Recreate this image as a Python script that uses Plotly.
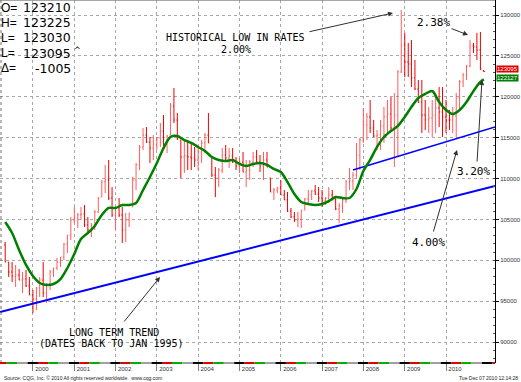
import plotly.graph_objects as go
import pandas as pd

# ---------------- data (monthly bars, May 1999 .. Dec 2010) ----------------
bar_open = [101870, 99790, 98570, 98080, 98200, 97590, 97710, 96860,
            95760, 95270, 96610, 97590, 96000, 97100, 98570, 99060, 99790, 100400, 101990, 103090,
            104930, 105170, 105540, 105660, 104320, 103710, 104320, 105910, 107740, 109580, 109820, 107620,
            105540, 106400, 105540, 103710, 104930, 106520, 109820, 111660, 113860, 115320, 114470, 113730,
            114220, 114960, 115810, 114220, 115320, 118870, 117160, 114710, 112630, 112760, 112630, 112510,
            112270, 113250, 114350, 115320, 112630, 110430, 110070, 111040, 112880, 112510, 112760, 112020,
            111530, 112020, 110800, 111040, 112020, 112630, 112020, 111530, 112270, 110070, 108350, 108600,
            108840, 107990, 107380, 106030, 105300, 104930, 105050, 106150, 107500, 107990, 108480, 108110,
            107620, 107250, 107620, 107990, 107380, 106270, 106640, 107380, 109580, 109700, 110430, 112880,
            114710, 116550, 117530, 116180, 115200, 115320, 116430, 117530, 117890, 116180, 117770, 123030,
            126330, 124250, 124010, 122300, 120950, 119360, 117770, 117160, 117400, 117770, 118630, 118140,
            117530, 117160, 117160, 117650, 119850, 121810, 122660, 123760, 126210, 126090, 125720, 123210]
bar_high = [102240, 99790, 99790, 99430, 98940, 98570, 98810, 97960,
            96370, 96740, 97960, 99790, 97220, 98810, 99060, 100280, 100400, 102120, 103090, 105300,
            106520, 105790, 106520, 106760, 105300, 104560, 106150, 107740, 109820, 111660, 112270, 108960,
            106520, 107620, 106520, 105790, 105790, 110190, 111900, 114100, 116180, 116300, 115080, 115320,
            115080, 116790, 117770, 115320, 119240, 121070, 118020, 114710, 114710, 114470, 114350, 113860,
            113860, 114710, 115570, 118020, 112630, 111410, 111290, 113730, 114100, 113730, 113730, 112630,
            112510, 113250, 112270, 112270, 113250, 113490, 112880, 113250, 113250, 110070, 108840, 108960,
            109820, 108600, 108350, 106400, 105910, 105910, 106150, 107620, 108600, 108600, 109210, 108960,
            108600, 107740, 108960, 108600, 107740, 107010, 107620, 109820, 111290, 110800, 114350, 114960,
            118630, 118020, 119610, 117160, 115940, 117160, 118750, 119610, 119970, 120460, 123270, 130610,
            127800, 126580, 126940, 124500, 122050, 122050, 119610, 118750, 119610, 119970, 121190, 121190,
            119610, 118380, 118750, 120460, 122050, 122910, 123890, 126940, 126580, 127800, 127920, 123225]
bar_low = [99790, 97960, 97350, 96740, 97590, 96000, 96740, 95760,
           93560, 93920, 95510, 95510, 94780, 96370, 97960, 98810, 99180, 100040, 100890, 102480,
           104560, 103950, 104930, 104070, 103340, 102850, 103710, 105790, 107740, 108230, 107380, 105300,
           103710, 105300, 102120, 102240, 104070, 106520, 108600, 111040, 113490, 114350, 111900, 112270,
           113490, 113860, 113860, 113120, 115320, 116790, 114710, 110070, 110680, 111040, 111040, 111410,
           111040, 111900, 113120, 114350, 110190, 107740, 108960, 110680, 112020, 111290, 111900, 111040,
           110680, 110800, 108960, 109820, 111410, 111900, 110800, 109820, 111410, 108350, 107380, 108230,
           107990, 107380, 105910, 105170, 104680, 104070, 103950, 106150, 107010, 107380, 107990, 107130,
           106520, 106760, 107010, 107380, 106150, 104560, 105790, 107010, 108600, 108600, 110070, 111040,
           114350, 114710, 115570, 115080, 113490, 113490, 114350, 115570, 115940, 111410, 112630, 122910,
           122420, 122420, 121190, 120830, 119240, 115570, 115940, 115570, 115080, 115570, 116300, 115080,
           115570, 115940, 115570, 115080, 118380, 121190, 122050, 123640, 125350, 124500, 123270, 123030]
bar_close = [99790, 98570, 98080, 98200, 97590, 97710, 96860, 95760,
             95270, 96610, 97590, 96000, 97100, 98570, 99060, 99790, 100400, 101990, 103090, 104930,
             105170, 105540, 105660, 104320, 103710, 104320, 105910, 107620, 109580, 109820, 107620, 105540,
             106400, 105540, 103710, 104930, 105790, 109820, 111660, 113860, 115320, 114470, 113730, 114220,
             114960, 115810, 114220, 115200, 118870, 117160, 114840, 112630, 112760, 112630, 112510, 112270,
             113250, 114350, 115320, 114350, 110430, 110070, 111040, 112880, 112510, 112760, 112020, 111530,
             112020, 110800, 111040, 112020, 112630, 112020, 111530, 112270, 111410, 108350, 108600, 108840,
             107990, 107380, 106030, 105300, 104930, 105050, 106150, 107500, 107990, 108480, 108110, 107620,
             107250, 107620, 107990, 107380, 106270, 106640, 107380, 109580, 109700, 110430, 112880, 114710,
             116550, 117530, 116180, 115200, 115320, 116430, 117530, 117890, 116180, 117770, 123030, 126330,
             124250, 124010, 122300, 120950, 119360, 117770, 117160, 117400, 117770, 118630, 118140, 117530,
             117160, 117160, 117650, 119850, 121810, 122660, 123760, 126210, 126090, 125720, 123400, 123095]

# green moving-average line, read every second month (May 1999 .. Nov 2010) + Dec 2010
ma_values = [104680, 103340, 101260, 99430, 98080, 97220, 96980, 97100, 97710, 99060,
             100770, 102610, 103340, 104200, 105540, 106400, 106400, 106760, 106760, 107010,
             108600, 110190, 111900, 113730, 115080, 115200, 114710, 114350, 113860, 113370,
             112630, 112270, 112140, 112270, 111780, 111530, 111780, 111900, 111660, 111170,
             110800, 109580, 108110, 107130, 106890, 106760, 106890, 107250, 107740, 107620,
             107620, 108720, 110920, 112270, 113860, 115080, 115810, 116430, 117530, 118750,
             119850, 120340, 120710, 119360, 118380, 117890, 118380, 119360, 120710, 121810,
             122127]

# trend lines (date, price)
trend_long_dates = ["1999-03-16", "2011-03-10"]
trend_long_vals = [93680, 109090]
trend_short_dates = ["2007-10-01", "2011-03-10"]
trend_short_vals = [111040, 116300]

years = list(range(2000, 2011))
y_ticks = list(range(90000, 130001, 5000))
last_close = 123095
last_ma = 122127
x_range = ["1999-03-16", "2011-03-10"]
y_range = [87440, 131835]

months = pd.date_range("1999-05-01", periods=len(bar_high), freq="MS")
ma_dates = list(pd.date_range("1999-05-01", periods=len(ma_values) - 1, freq="2MS")) + [pd.Timestamp("2010-12-01")]

# ---------------- figure ----------------
PW, PH = 495, 363  # plot area in px


def fx(px):
    return px / PW


def fy(py):
    return 1 - py / PH


fig = go.Figure()

fig.add_trace(go.Scatter(x=trend_long_dates, y=trend_long_vals, mode="lines",
                         line=dict(color="#0000ff", width=2), hoverinfo="skip"))
fig.add_trace(go.Scatter(x=trend_short_dates, y=trend_short_vals, mode="lines",
                         line=dict(color="#0000ff", width=1.6), hoverinfo="skip"))
fig.add_trace(go.Ohlc(x=months, open=bar_open, high=bar_high, low=bar_low, close=bar_close,
                      increasing=dict(line=dict(color="#ff5c5c", width=1)),
                      decreasing=dict(line=dict(color="#f00000", width=1)),
                      tickwidth=0.3))
fig.add_trace(go.Scatter(x=ma_dates, y=ma_values, mode="lines",
                         line=dict(color="#008000", width=2.5, shape="spline", smoothing=0.8)))

shapes = []
# white box under the OHLC read-out
shapes.append(dict(type="rect", xref="paper", yref="paper", x0=0, x1=fx(82), y0=fy(75), y1=1,
                   fillcolor="white", line=dict(width=0), layer="between"))
# top border & left dotted edge
shapes.append(dict(type="line", xref="paper", yref="paper", x0=0, x1=1, y0=1, y1=1,
                   line=dict(color="#8a8a8a", width=1.5)))
shapes.append(dict(type="line", xref="paper", yref="paper", x0=fx(1), x1=fx(1), y0=0, y1=1,
                   line=dict(color="#707070", width=1, dash="dot")))
# seasonal colour strip along the bottom
lo, hi = pd.Timestamp(x_range[0]), pd.Timestamp(x_range[1])
season_cols = ["#000000", "#e00000", "#00b000", "#a0a0a0"]
for yr in range(1999, 2012):
    bounds = [pd.Timestamp(f"{yr-1}-11-15"), pd.Timestamp(f"{yr}-02-15"), pd.Timestamp(f"{yr}-05-15"),
              pd.Timestamp(f"{yr}-08-15"), pd.Timestamp(f"{yr}-11-15")]
    for i in range(4):
        a, b = max(bounds[i], lo), min(bounds[i + 1], hi)
        if a < b:
            shapes.append(dict(type="line", xref="x", yref="paper", x0=a, x1=b, y0=0, y1=0,
                               line=dict(color=season_cols[i], width=2)))

ann = []
# OHLC read-out
labels = ["O=", "H=", "L=", "L=", "Δ="]
values = ["123210", "123225", "123030", "123095", "-1005"]
for i, (lb, vl) in enumerate(zip(labels, values)):
    yy = 7.5 + 15.2 * i
    ann.append(dict(xref="paper", yref="paper", x=0, y=fy(yy), xanchor="left", yanchor="middle",
                    text=lb, showarrow=False, borderpad=0,
                    font=dict(family="Liberation Sans", size=12, color="black")))
    ann.append(dict(xref="paper", yref="paper", x=fx(71.5), y=fy(yy), xanchor="right", yanchor="middle",
                    text=vl, showarrow=False, borderpad=0,
                    font=dict(family="DejaVu Sans", size=12.5, color="black")))
ann.append(dict(xref="paper", yref="paper", x=fx(72.5), y=fy(51), xanchor="left", yanchor="middle",
                text="^", showarrow=False, borderpad=0,
                font=dict(family="DejaVu Sans", size=8, color="black")))

mono = "DejaVu Sans Mono"


def txt(s, x, y, size=10):
    ann.append(dict(xref="paper", yref="paper", x=fx(x), y=fy(y), xanchor="center", yanchor="middle",
                    text=s, showarrow=False, font=dict(family=mono, size=size, color="black")))


def arrow(tail, head):
    ann.append(dict(xref="paper", yref="paper", x=fx(head[0]), y=fy(head[1]), text="",
                    showarrow=True, arrowhead=2, arrowsize=1, arrowwidth=1, arrowcolor="#303030",
                    ax=tail[0] - head[0], ay=tail[1] - head[1], standoff=0))


txt("HISTORICAL LOW IN RATES", 235, 38)
txt("2.00%", 236, 49)
txt("2.38%", 433, 23, 11)
txt("3.20%", 473, 171, 11)
txt("4.00%", 428, 242, 11)
txt("LONG TERM TREND", 114, 332)
txt("(DATES BACK TO JAN 1995)", 111, 343)
arrow((308, 32), (393, 13))
arrow((450, 28), (468, 35))
arrow((477, 163), (482, 80))
arrow((433, 233), (457, 150))
arrow((123, 323), (160, 277))

# value boxes on the right axis
ann.append(dict(xref="paper", yref="y", x=1, y=last_close, xanchor="left", yanchor="middle", xshift=1, yshift=2,
                text=str(last_close), showarrow=False, bgcolor="#e00000", borderpad=0,
                font=dict(family="Liberation Sans", size=6, color="white")))
ann.append(dict(xref="paper", yref="y", x=1, y=last_ma, xanchor="left", yanchor="middle", xshift=1, yshift=1,
                text=str(last_ma), showarrow=False, bgcolor="#008000", borderpad=0,
                font=dict(family="Liberation Sans", size=6, color="white")))

# footer texts
ann.append(dict(xref="paper", yref="paper", x=fx(2), y=fy(378), xanchor="left", yanchor="middle",
                text="Source: CQG, Inc. © 2010 All rights reserved worldwide.  www.cqg.com", showarrow=False,
                font=dict(family="Liberation Sans", size=5, color="#222")))
ann.append(dict(xref="paper", yref="paper", x=fx(520), y=fy(378), xanchor="right", yanchor="middle",
                text="Tue Dec 07 2010 12:14:28", showarrow=False,
                font=dict(family="Liberation Sans", size=5, color="#222")))

fig.update_layout(
    width=521, height=382, margin=dict(l=0, r=26, t=0, b=19),
    plot_bgcolor="white", paper_bgcolor="white", showlegend=False,
    shapes=shapes, annotations=ann,
    xaxis=dict(type="date", range=x_range, rangeslider=dict(visible=False),
               tickvals=[f"{y}-01-01" for y in years], ticktext=[str(y) for y in years],
               showgrid=True, gridcolor="#a8a8a8", griddash="dot", gridwidth=1,
               ticks="outside", ticklen=7, tickcolor="#808080", tickwidth=1,
               tickfont=dict(family="Liberation Sans", size=6, color="#333"),
               ticklabelshift=9, ticklabelstandoff=-7,
               showline=False, zeroline=False),
    yaxis=dict(side="right", range=y_range, tickvals=y_ticks, tickformat="d",
               showgrid=True, gridcolor="#a8a8a8", griddash="dot", gridwidth=1,
               showline=True, linecolor="#000", linewidth=1,
               ticks="outside", ticklen=3, tickcolor="#000",
               minor=dict(dtick=1000, ticks="inside", ticklen=2, tickcolor="#555", showgrid=False),
               tickfont=dict(family="Liberation Sans", size=6, color="#333"),
               zeroline=False),
)

fig.write_html("out.html")
